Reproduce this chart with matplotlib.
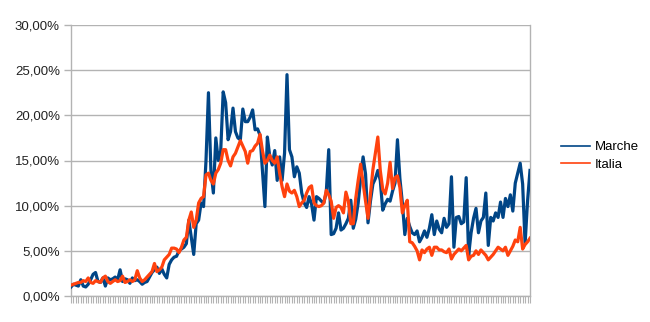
import numpy as np
import matplotlib
matplotlib.use("Agg")
import matplotlib.pyplot as plt
from matplotlib.ticker import FuncFormatter, FixedLocator

plt.rcParams['font.family'] = ['Liberation Sans', 'DejaVu Sans']

# daily positivity rate (%)
marche = [
    1.0, 1.3, 1.2, 1.1, 1.8, 1.1, 1.0, 1.3, 1.8, 2.4,
    2.6, 1.6, 1.5, 2.0, 1.1, 2.0, 1.8, 1.9, 2.1, 1.8,
    2.9, 1.6, 1.9, 1.8, 1.4, 2.0, 1.7, 1.8, 1.6, 1.3,
    1.5, 1.6, 2.1, 2.6, 2.9, 3.2, 2.5, 3.0, 2.4, 2.0,
    3.5, 4.0, 4.3, 4.4, 5.0, 5.2, 5.4, 5.8, 8.4, 6.5,
    4.6, 8.0, 8.4, 10.3, 9.9, 15.0, 22.5, 13.9, 11.4, 17.5,
    15.0, 16.1, 22.6, 21.4, 17.3, 18.2, 20.8, 18.2, 17.5, 17.3,
    20.7, 19.3, 19.3, 19.8, 20.6, 18.4, 18.5, 17.8, 13.9, 9.9,
    17.6, 15.4, 14.5, 16.1, 12.8, 15.4, 12.8, 15.8, 24.5, 16.2,
    15.4, 13.2, 14.3, 13.6, 11.4, 10.3, 9.8, 11.0, 10.2, 8.4,
    11.0, 10.8, 10.5, 10.3, 11.5, 16.2, 6.8, 6.9, 7.5, 9.2,
    7.3, 7.5, 8.0, 8.6, 10.6, 7.5, 8.5, 10.3, 13.0, 15.4,
    13.5, 8.1, 10.5, 12.4, 13.0, 13.9, 12.8, 9.5, 10.2, 10.7,
    10.5, 11.6, 12.5, 17.3, 13.0, 10.3, 6.8, 8.6, 7.7, 7.0,
    6.8, 7.2, 6.0, 6.5, 7.2, 6.5, 7.5, 9.0, 6.8, 8.3,
    7.4, 7.0, 8.6, 7.6, 8.0, 13.2, 5.4, 8.7, 8.8, 8.0,
    8.2, 13.1, 4.5, 7.0, 8.6, 9.7, 7.0, 8.3, 8.7, 11.4,
    5.6, 8.7, 8.3, 9.2, 8.7, 10.4, 8.7, 10.8, 9.9, 11.2,
    9.4, 12.5, 13.6, 14.7, 12.4, 5.8, 10.5, 13.9,
]
italia = [
    1.2, 1.3, 1.4, 1.5, 1.5, 1.7, 1.6, 2.0, 1.5, 1.4,
    1.7, 1.6, 1.5, 2.0, 2.2, 1.6, 1.4, 1.6, 1.8, 1.6,
    1.7, 2.2, 1.5, 1.6, 1.8, 1.6, 1.8, 2.8, 2.0, 1.6,
    1.8, 2.1, 2.4, 2.7, 3.6, 2.7, 2.9, 3.2, 4.0, 4.3,
    4.6, 5.3, 5.3, 5.2, 4.8, 5.4, 6.2, 6.5, 8.4, 9.3,
    7.6, 8.4, 10.3, 10.8, 11.0, 13.4, 13.6, 12.8, 12.4, 13.6,
    14.0, 14.7, 16.2, 16.2, 15.0, 14.4, 15.4, 15.8, 16.5, 17.2,
    16.6, 16.0, 14.7, 16.0, 16.1, 16.6, 16.9, 17.9, 16.1, 14.7,
    15.0, 15.6, 15.0, 14.7, 15.4, 13.6, 12.1, 11.0, 12.4, 11.6,
    11.4, 11.7, 11.0, 9.9, 10.3, 10.6, 11.4, 12.0, 12.2, 10.3,
    10.0, 9.9, 10.0, 10.3, 11.7, 11.2, 10.5, 8.6, 9.8, 10.0,
    9.8, 9.2, 11.5, 10.5, 8.0, 8.0, 10.8, 12.8, 14.6, 12.5,
    10.5, 8.6, 11.3, 14.0, 15.8, 17.6, 13.9, 11.8, 11.3, 12.5,
    14.8, 11.9, 13.1, 13.3, 12.0, 9.2, 10.0, 10.6, 6.0, 5.9,
    5.5, 5.0, 4.0, 5.1, 4.8, 5.2, 5.4, 4.5, 5.4, 5.4,
    5.1, 5.1, 4.9, 4.8, 5.2, 4.1, 4.6, 4.9, 5.2, 5.0,
    5.3, 5.6, 4.0, 4.4, 4.5, 5.0, 4.6, 5.1, 4.8, 4.5,
    4.0, 4.3, 4.6, 5.0, 5.4, 5.2, 5.0, 5.4, 4.5, 5.0,
    5.5, 6.2, 6.0, 7.6, 5.2, 5.7, 6.0, 6.4,
]
yticks = [0, 5, 10, 15, 20, 25, 30]

x = np.arange(len(marche))

fig = plt.figure(figsize=(6.5, 3.22), dpi=100)
ax = fig.add_axes([71 / 650, 26 / 322, 459 / 650, 271 / 322])

grid_col = '#b3b3b3'
ax.plot(x, marche, color='#004586', lw=2.3, solid_joinstyle='round', label='Marche', zorder=3)
ax.plot(x, italia, color='#ff420e', lw=2.3, solid_joinstyle='round', label='Italia', zorder=4)

ax.set_xlim(0, len(marche) - 1)
ax.set_ylim(0, 30)
ax.yaxis.set_major_locator(FixedLocator(yticks))
ax.yaxis.set_major_formatter(FuncFormatter(lambda v, p: ('%.2f%%' % v).replace('.', ',')))
ax.grid(axis='y', color=grid_col, lw=1.0, zorder=0)
ax.set_xticks(x)
ax.set_xticklabels([])
ax.tick_params(axis='x', length=5, color=grid_col, width=0.8)
ax.tick_params(axis='y', length=5, color=grid_col, width=1.0, labelsize=9.5, pad=3, labelcolor='#222222')

for side in ['left', 'right', 'bottom']:
    ax.spines[side].set_color(grid_col)
    ax.spines[side].set_linewidth(1.0)
ax.spines['top'].set_visible(False)

handles = [plt.Line2D([], [], color='#004586', lw=1.2),
           plt.Line2D([], [], color='#ff420e', lw=1.2)]
fig.legend(handles, ['Marche', 'Italia'], loc='center left',
           bbox_to_anchor=(549 / 650, 1 - 156 / 322), frameon=False,
           fontsize=9.5, handlelength=2.2, handletextpad=0.4, labelspacing=0.4)

fig.savefig('out.png', dpi=100)
